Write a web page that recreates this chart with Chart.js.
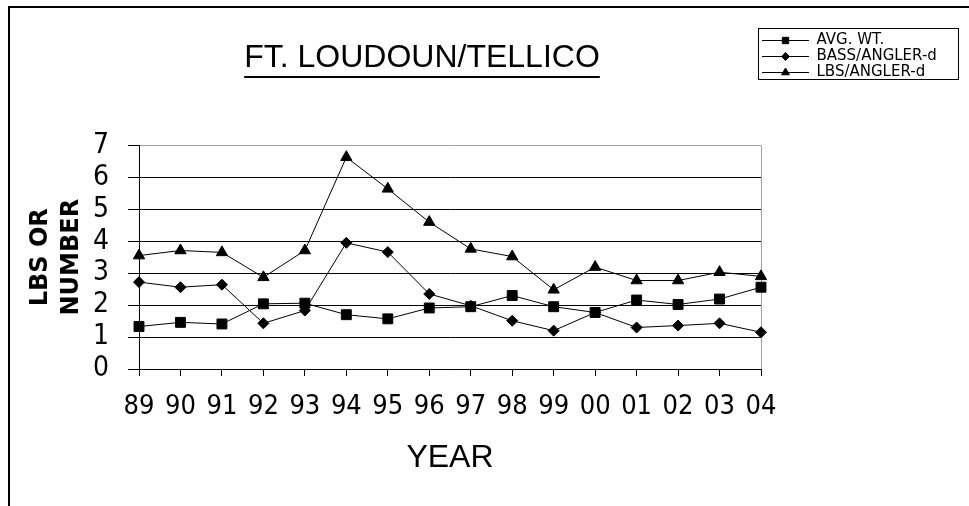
<!DOCTYPE html>
<html>
<head>
<meta charset="utf-8">
<title>FT. LOUDOUN/TELLICO</title>
<script src="https://cdn.jsdelivr.net/npm/chart.js@4.4.1/dist/chart.umd.min.js"></script>
<style>
  html, body { margin: 0; padding: 0; background: #fff; }
</style>
</head>
<body>
<canvas id="fishChart" width="969" height="506"></canvas>
<script>
// data
const years = ["89", "90", "91", "92", "93", "94", "95", "96", "97", "98", "99", "00", "01", "02", "03", "04"];
const avgWeight = [1.33, 1.46, 1.41, 2.04, 2.06, 1.70, 1.57, 1.91, 1.95, 2.30, 1.95, 1.77, 2.16, 2.02, 2.19, 2.56];
const bassPerAngler = [2.72, 2.56, 2.64, 1.43, 1.83, 3.95, 3.66, 2.35, 1.98, 1.51, 1.20, 1.77, 1.30, 1.36, 1.43, 1.15];
const lbsPerAngler = [3.55, 3.71, 3.65, 2.87, 3.71, 6.63, 5.64, 4.60, 3.76, 3.52, 2.48, 3.19, 2.77, 2.77, 3.03, 2.90];
const seriesNames = ["AVG. WT.", "BASS/ANGLER-d", "LBS/ANGLER-d"];
const yMax = 7;

const TITLE = "FT. LOUDOUN/TELLICO";
const markerStyles = ["rect", "rectRot", "triangle"];
const markerRadius = [7, 5.5, 6.5];
const legendRadius = [4.5, 4, 4.5];
const tickFont = "'Liberation Sans Narrow', 'DejaVu Sans Condensed', 'Liberation Sans', sans-serif";

Chart.defaults.font.family = "'Liberation Sans', Arial, sans-serif";
Chart.defaults.color = "#000";

// little line + marker sample for the legend
function legendSample(style, r) {
    const c = document.createElement("canvas");
    c.width = 47;
    c.height = 14;
    const g = c.getContext("2d");
    g.strokeStyle = "#000";
    g.fillStyle = "#000";
    g.lineWidth = 1;
    g.beginPath();
    g.moveTo(0, 7.5);
    g.lineTo(47, 7.5);
    g.stroke();
    Chart.helpers.drawPoint(g, { pointStyle: style, radius: r, rotation: 0, borderWidth: 1 }, 23.5, 7.5);
    return c;
}

function makeSet(i, values) {
    return {
        label: seriesNames[i],
        data: values,
        borderColor: "#000",
        backgroundColor: "#000",
        borderWidth: 1,
        tension: 0,
        pointStyle: markerStyles[i],
        pointRadius: markerRadius[i],
        pointBackgroundColor: "#000",
        pointBorderColor: "#000",
        pointBorderWidth: 1,
        clip: false
    };
}

// page frame, legend placement, title underline
const frame = {
    id: "frame",
    beforeLayout(chart) {
        const lg = chart.legend;
        if (lg && !lg._fixed) {
            const fit = lg.fit;
            lg.fit = function () {
                fit.call(this);
                this.width = 208;
            };
            lg._fixed = true;
        }
    },
    afterLayout(chart) {
        const lg = chart.legend;
        lg.left = 761;
        lg.right = 958;
        lg.top = 31.5;
        lg.bottom = 100;
        lg.width = lg.right - lg.left;
        lg.height = lg.bottom - lg.top;
        const t = chart.titleBlock;
        t.left = 0;
        t.right = 844;
        t.width = 844;
    },
    beforeDraw(chart) {
        const ctx = chart.ctx;
        ctx.save();
        ctx.fillStyle = "#fff";
        ctx.fillRect(0, 0, chart.width, chart.height);
        ctx.fillStyle = "#000";
        ctx.fillRect(8, 6, chart.width - 8, 2);
        ctx.fillRect(8, 6, 2, chart.height - 6);
        ctx.restore();
    },
    afterDraw(chart) {
        const ctx = chart.ctx;
        const t = chart.titleBlock;
        ctx.save();
        ctx.font = "32px 'Liberation Sans', Arial, sans-serif";
        const w = ctx.measureText(TITLE).width;
        const cx = (t.left + t.right) / 2;
        ctx.fillStyle = "#000";
        ctx.fillRect(cx - w / 2, 76, w, 2);
        ctx.strokeStyle = "#000";
        ctx.lineWidth = 1;
        ctx.strokeRect(758.5, 28.5, 200, 51);
        ctx.restore();
    }
};

const fishCtx = document.getElementById("fishChart");

new Chart(fishCtx, {
    type: "line",
    data: {
        labels: years,
        datasets: [
            makeSet(0, avgWeight),
            makeSet(1, bassPerAngler),
            makeSet(2, lbsPerAngler)
        ]
    },
    options: {
        responsive: false,
        animation: false,
        layout: { padding: 0 },
        plugins: {
            title: {
                display: true,
                text: TITLE,
                font: { size: 32, weight: "normal" },
                padding: { top: 39, bottom: 68 }
            },
            legend: {
                display: true,
                position: "right",
                align: "start",
                labels: {
                    usePointStyle: true,
                    pointStyleWidth: 47,
                    padding: 1,
                    color: "#000",
                    font: { family: "'DejaVu Sans', sans-serif", size: 15, lineHeight: 1 },
                    generateLabels(chart) {
                        const items = Chart.defaults.plugins.legend.labels.generateLabels(chart);
                        items.forEach((it, i) => {
                            it.pointStyle = legendSample(markerStyles[i], legendRadius[i]);
                        });
                        return items;
                    }
                }
            },
            tooltip: { enabled: false }
        },
        scales: {
            x: {
                afterFit(scale) {
                    scale.height = 137;
                },
                border: { color: "#000", width: 1 },
                grid: {
                    drawOnChartArea: true,
                    drawTicks: true,
                    tickLength: 7,
                    tickColor: "#000",
                    color: (c) => (c.index === years.length - 1 ? "#a0a0a0" : "rgba(0,0,0,0)")
                },
                ticks: {
                    padding: 15,
                    maxRotation: 0,
                    autoSkip: false,
                    font: { family: tickFont, size: 27 }
                },
                title: {
                    display: true,
                    text: "YEAR",
                    font: { size: 32, weight: "normal" },
                    padding: { top: 0, bottom: 29 }
                }
            },
            y: {
                min: 0,
                max: yMax,
                afterFit(scale) {
                    scale.width = 139;
                },
                border: { color: "#000", width: 1 },
                grid: {
                    tickLength: 11,
                    tickColor: "#000",
                    color: (c) => (c.tick && c.tick.value === yMax ? "#a0a0a0" : "#000")
                },
                ticks: {
                    stepSize: 1,
                    autoSkip: false,
                    padding: 19,
                    font: { family: tickFont, size: 28 }
                },
                title: {
                    display: true,
                    text: ["LBS OR", "NUMBER"],
                    font: { family: "'DejaVu Sans', sans-serif", size: 24, weight: "bold", lineHeight: 1.3 },
                    padding: { top: 25, bottom: 0 }
                }
            }
        }
    },
    plugins: [frame]
});
</script>
</body>
</html>
